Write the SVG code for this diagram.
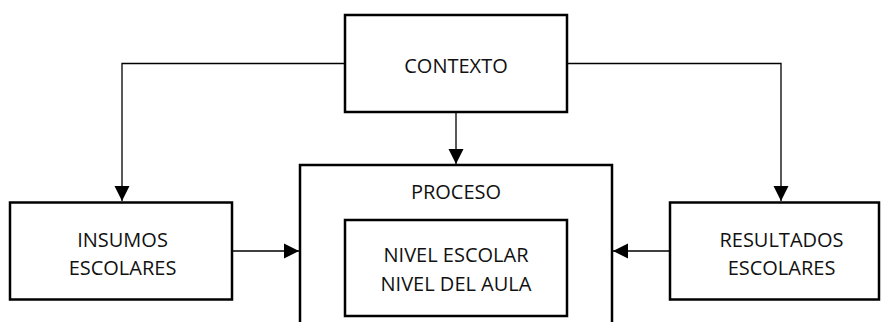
<svg xmlns="http://www.w3.org/2000/svg" width="881" height="322" viewBox="0 0 881 322">
<style>
.box{fill:#fff;stroke:#000;stroke-width:2.5}
.t{font-family:"Open Sans","Liberation Sans",sans-serif;font-size:20px;fill:#111;text-anchor:middle}
.c{fill:none;stroke:#000;stroke-width:1.3}
</style>
<defs>
<marker id="ah" markerUnits="userSpaceOnUse" markerWidth="16" markerHeight="16" viewBox="0 0 16 16" refX="15" refY="8" orient="auto">
<path d="M0,0.5 L15,8 L0,15.5 Z" fill="#000"/>
</marker>
</defs>
<rect width="881" height="322" fill="#fff"/>
<g id="connectors">
<path class="c" d="M344,63.5 H122 V201" marker-end="url(#ah)"/>
<path class="c" d="M568,63.5 H781 V201" marker-end="url(#ah)"/>
<path class="c" d="M456,113 V164" marker-end="url(#ah)"/>
<path class="c" d="M233,251 H299" marker-end="url(#ah)"/>
<path class="c" d="M669,251 H613" marker-end="url(#ah)"/>
</g>
<g id="contexto">
<rect class="box" x="345" y="15" width="222" height="97"/>
<text class="t" x="456" y="72.5">CONTEXTO</text>
</g>
<g id="insumos">
<rect class="box" x="10" y="202.5" width="222" height="97"/>
<text class="t" x="122.5" y="246.5">INSUMOS</text>
<text class="t" x="122.5" y="274.5">ESCOLARES</text>
</g>
<g id="resultados">
<rect class="box" x="670" y="202.5" width="209" height="97"/>
<text class="t" x="781.5" y="246.5">RESULTADOS</text>
<text class="t" x="781.5" y="274.5">ESCOLARES</text>
</g>
<g id="proceso">
<rect class="box" x="300" y="165" width="312" height="200"/>
<text class="t" x="456" y="199">PROCESO</text>
</g>
<g id="niveles">
<rect class="box" x="345" y="220" width="222" height="96"/>
<text class="t" x="456" y="261.5">NIVEL ESCOLAR</text>
<text class="t" x="456" y="290.5">NIVEL DEL AULA</text>
</g>
</svg>
